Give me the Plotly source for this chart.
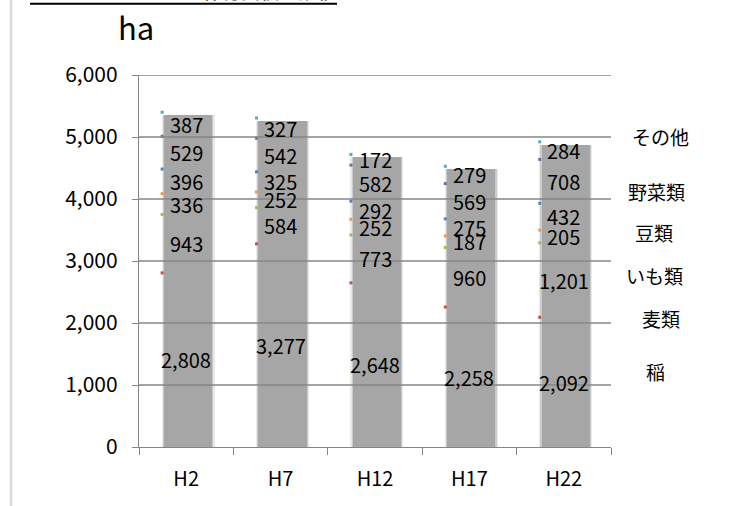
import numpy as np
import plotly.graph_objects as go

# Planted area by crop (ha)
years = ["H2", "H7", "H12", "H17", "H22"]
crops = ["稲", "麦類", "いも類", "豆類", "野菜類", "その他"]
rice = [2808, 3277, 2648, 2258, 2092]
wheat = [943, 584, 773, 960, 1201]
potato = [336, 252, 252, 187, 205]
beans = [396, 325, 292, 275, 432]
vegetables = [529, 542, 582, 569, 708]
others = [387, 327, 172, 279, 284]
y_ticks = [0, 1000, 2000, 3000, 4000, 5000, 6000]

series = [rice, wheat, potato, beans, vegetables, others]
marker_colors = ["#c0504d", "#9bbb59", "#f79646", "#4f81bd", "#8064a2", "#4bacc6"]

W, H = 755, 506
L, R, T, B = 139, 611, 75, 447  # plot area in px


def px_x(px):
    return (px - L) / (R - L)


def px_y(py):
    return (B - py) / (B - T)


NUM = "Noto Sans CJK JP, sans-serif"
JP = "Noto Sans CJK JP, sans-serif"
GRID = "#868686"

x = np.arange(len(years))
vals = np.array(series, dtype=float)
tops = np.cumsum(vals, axis=0)
bottoms = tops - vals
totals = tops[-1]

fig = go.Figure()

# soft grey column (layered for blurred edges)
shadow_layers = [(0.56, 0.25), (0.535, 0.45), (0.51, 1.0)]
for w, op in shadow_layers:
    fig.add_trace(go.Bar(
        x=x + 0.02, y=totals, base=-45, width=w,
        marker=dict(color=f"rgba(166,166,166,{op})", line=dict(width=0)),
        hoverinfo="skip", showlegend=False,
    ))

# small coloured marks at the top-left corner of each segment
for i, name in enumerate(crops):
    fig.add_trace(go.Scatter(
        x=x - 0.255, y=tops[i], mode="markers", name=name,
        marker=dict(symbol="square", size=3, color=marker_colors[i]),
        hoverinfo="skip", showlegend=False,
    ))

annotations = []
# value labels centred on each segment
for i in range(len(crops)):
    for j in range(len(years)):
        annotations.append(dict(
            x=x[j], y=bottoms[i][j] + vals[i][j] / 2, xref="x", yref="y",
            text=f"{int(vals[i][j]):,}", showarrow=False,
            xanchor="center", yanchor="middle",
            font=dict(family=NUM, size=20, color="#000000"),
        ))

shapes = []
# horizontal gridlines drawn over the columns
for v in y_ticks[1:]:
    shapes.append(dict(type="line", xref="paper", yref="y", x0=0, x1=1, y0=v, y1=v,
                       line=dict(color=GRID, width=1.3), layer="above"))
# page border on the left
shapes.append(dict(type="line", xref="paper", yref="paper", x0=px_x(11), x1=px_x(11),
                   y0=px_y(H + 5), y1=px_y(-5), line=dict(color="#d9d9d9", width=2.5)))
# heading underline
shapes.append(dict(type="line", xref="paper", yref="paper", x0=px_x(30), x1=px_x(337),
                   y0=px_y(3.8), y1=px_y(3.8), line=dict(color="#000000", width=2)))

annotations += [
    dict(text="ha", xref="paper", yref="paper", x=px_x(116), y=px_y(27), xanchor="left",
         yanchor="middle", showarrow=False, font=dict(family=NUM, size=31, color="#000")),
    dict(text="（１）", xref="paper", yref="paper", x=px_x(28), y=px_y(6), xanchor="left",
         yanchor="bottom", showarrow=False, font=dict(family=JP, size=19, color="#000")),
    dict(text="作付面積の推移", xref="paper", yref="paper", x=px_x(338), y=px_y(6),
         xanchor="right", yanchor="bottom", showarrow=False,
         font=dict(family=JP, size=19, color="#000")),
]
# category names on the right
label_pos = {"その他": (660, 136), "野菜類": (656, 191), "豆類": (654, 233),
             "いも類": (654, 275), "麦類": (661, 318), "稲": (655, 371)}
for name in reversed(crops):
    cx, cy = label_pos[name]
    annotations.append(dict(text=name, xref="paper", yref="paper", x=px_x(cx), y=px_y(cy),
                            xanchor="center", yanchor="middle", showarrow=False,
                            font=dict(family=JP, size=19, color="#000")))

fig.update_layout(
    width=W, height=H,
    margin=dict(l=L, r=W - R, t=T, b=H - B, pad=0),
    paper_bgcolor="#ffffff", plot_bgcolor="#ffffff",
    barmode="overlay", bargap=0,
    showlegend=False,
    shapes=shapes, annotations=annotations,
    xaxis=dict(
        range=[-0.5, len(years) - 0.5], tickvals=list(x), ticktext=years,
        ticks="", showgrid=False, zeroline=False,
        showline=True, linecolor=GRID, linewidth=1.3,
        tickfont=dict(family=NUM, size=20, color="#000"),
        ticklabelstandoff=14,
        minor=dict(tickvals=list(np.arange(-0.5, len(years), 1.0)), ticks="outside",
                   ticklen=7, tickcolor=GRID, tickwidth=1.3, showgrid=False),
    ),
    yaxis=dict(
        range=[0, 6000], tickvals=y_ticks, tickformat=",d",
        ticks="outside", ticklen=6, tickcolor=GRID, tickwidth=1.3,
        showgrid=False, zeroline=False,
        showline=True, linecolor=GRID, linewidth=1.3,
        tickfont=dict(family=NUM, size=21, color="#000"),
        ticklabelstandoff=10,
    ),
)

fig.write_html("out.html")
